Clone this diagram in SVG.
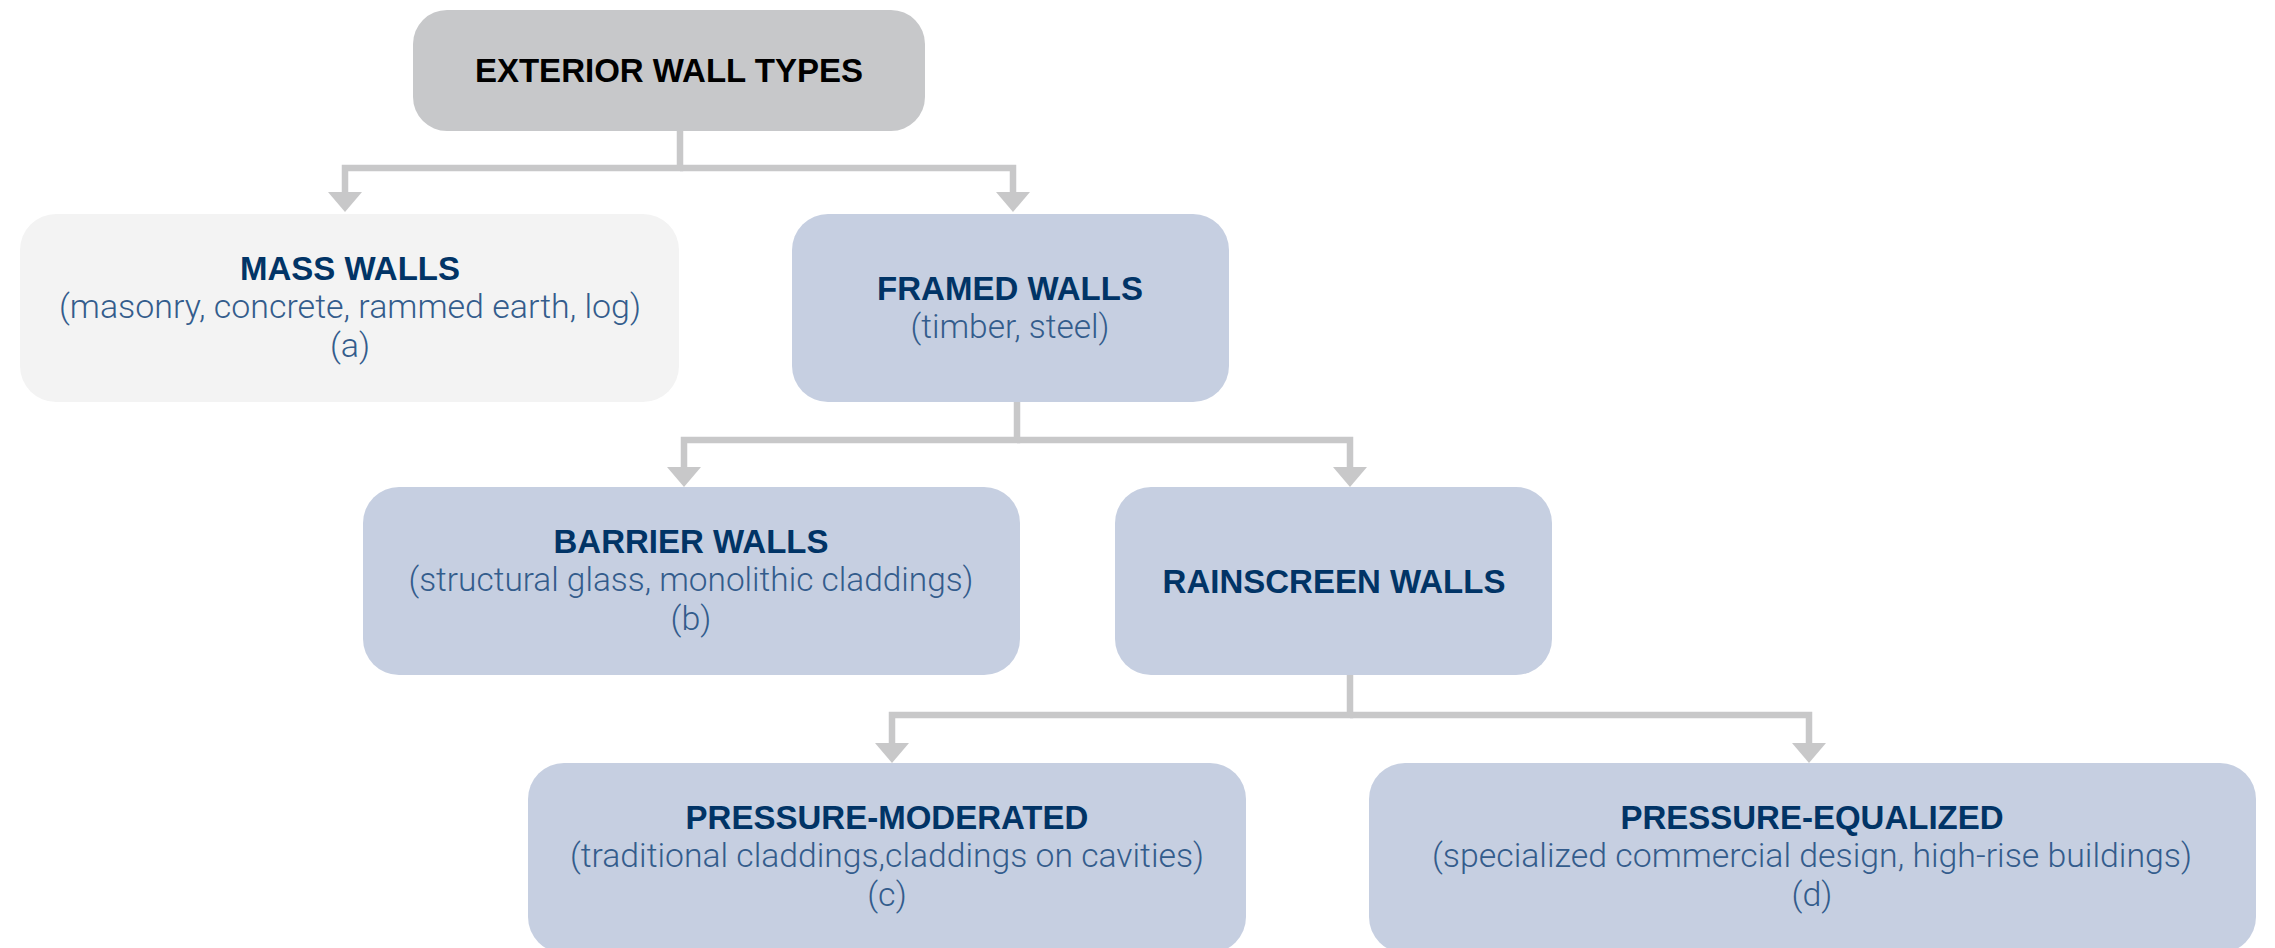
<svg xmlns="http://www.w3.org/2000/svg" width="2275" height="948" viewBox="0 0 2275 948">
<defs>
<style>
.box{stroke:none}
.root{fill:#c7c8ca}
.mass{fill:#f3f3f3}
.blue{fill:#c6cfe1}
.t{font-family:"Liberation Sans",Arial,sans-serif;font-weight:bold;font-size:33px;fill:#013466;text-anchor:middle}
.t0{fill:#000000;font-size:33px}
.s{font-family:Roboto,"Liberation Sans",sans-serif;font-weight:300;font-size:34px;fill:#335c8c;text-anchor:middle}
.c{fill:none;stroke:#c8c8c9;stroke-width:6.5;stroke-linejoin:miter}
</style>
<marker id="ah" viewBox="0 0 20 34" refX="0" refY="17" markerWidth="20" markerHeight="34" markerUnits="userSpaceOnUse" orient="auto">
<path d="M0,0 L20,17 L0,34 z" fill="#c8c8c9"/>
</marker>
</defs>
<rect width="2275" height="948" fill="#ffffff"/>
<g id="connectors">
<path class="c" d="M680,131 V168 H345 V192" marker-end="url(#ah)"/>
<path class="c" d="M680,168 H1013 V192" marker-end="url(#ah)"/>
<path class="c" d="M1017,402 V440 H684 V467" marker-end="url(#ah)"/>
<path class="c" d="M1017,440 H1350 V467" marker-end="url(#ah)"/>
<path class="c" d="M1350,675 V715 H892 V743" marker-end="url(#ah)"/>
<path class="c" d="M1350,715 H1809 V743" marker-end="url(#ah)"/>
</g>
<g id="root">
<rect class="box root" x="413" y="10" width="512" height="121" rx="34"/>
<text class="t t0" x="669" y="82">EXTERIOR WALL TYPES</text>
</g>
<g id="mass">
<rect class="box mass" x="20" y="214" width="659" height="188" rx="36"/>
<text class="t" x="350" y="280">MASS WALLS</text>
<text class="s" x="350" y="318" textLength="582" lengthAdjust="spacingAndGlyphs">(masonry, concrete, rammed earth, log)</text>
<text class="s" x="350" y="357">(a)</text>
</g>
<g id="framed">
<rect class="box blue" x="792" y="214" width="437" height="188" rx="36"/>
<text class="t" x="1010" y="300">FRAMED WALLS</text>
<text class="s" x="1010" y="338" textLength="199" lengthAdjust="spacingAndGlyphs">(timber, steel)</text>
</g>
<g id="barrier">
<rect class="box blue" x="363" y="487" width="657" height="188" rx="36"/>
<text class="t" x="691" y="553">BARRIER WALLS</text>
<text class="s" x="691" y="591" textLength="565" lengthAdjust="spacingAndGlyphs">(structural glass, monolithic claddings)</text>
<text class="s" x="691" y="630">(b)</text>
</g>
<g id="rainscreen">
<rect class="box blue" x="1115" y="487" width="437" height="188" rx="36"/>
<text class="t" x="1334" y="593">RAINSCREEN WALLS</text>
</g>
<g id="moderated">
<rect class="box blue" x="528" y="763" width="718" height="190" rx="36"/>
<text class="t" x="887" y="829">PRESSURE-MODERATED</text>
<text class="s" x="887" y="867" textLength="634" lengthAdjust="spacingAndGlyphs">(traditional claddings,claddings on cavities)</text>
<text class="s" x="887" y="906">(c)</text>
</g>
<g id="equalized">
<rect class="box blue" x="1369" y="763" width="887" height="190" rx="36"/>
<text class="t" x="1812" y="829">PRESSURE-EQUALIZED</text>
<text class="s" x="1812" y="867" textLength="760" lengthAdjust="spacingAndGlyphs">(specialized commercial design, high-rise buildings)</text>
<text class="s" x="1812" y="906">(d)</text>
</g>
</svg>
